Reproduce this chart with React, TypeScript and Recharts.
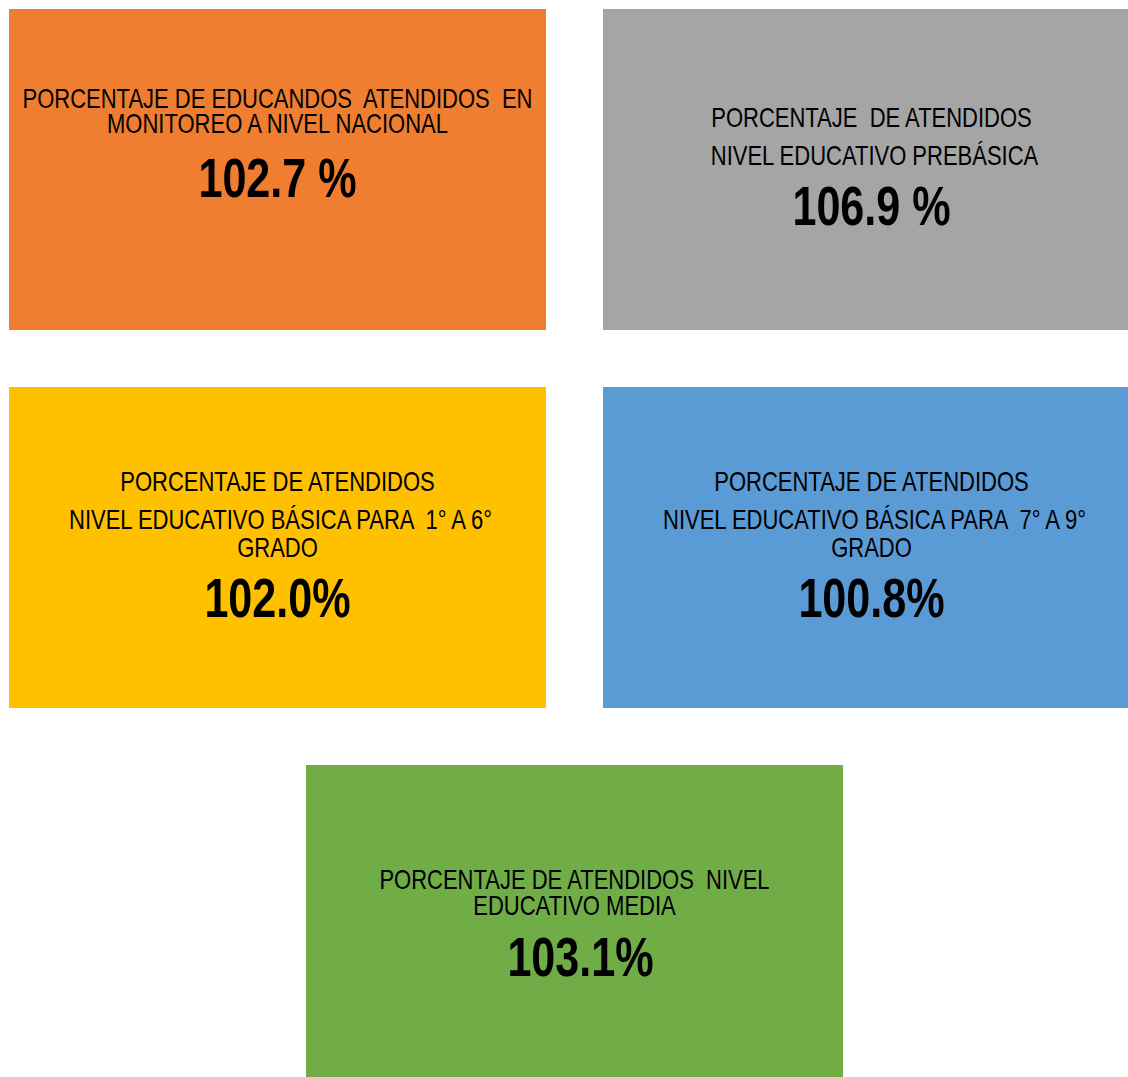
import React from "react";
import { ScatterChart, Scatter, XAxis, YAxis } from "recharts";

// ---- data ----
const cardTitles: string[][] = [
  ["PORCENTAJE DE EDUCANDOS  ATENDIDOS  EN", "MONITOREO A NIVEL NACIONAL"],
  ["PORCENTAJE  DE ATENDIDOS", "NIVEL EDUCATIVO PREBÁSICA"],
  ["PORCENTAJE DE ATENDIDOS", "NIVEL EDUCATIVO BÁSICA PARA  1° A 6°", "GRADO"],
  ["PORCENTAJE DE ATENDIDOS", "NIVEL EDUCATIVO BÁSICA PARA  7° A 9°", "GRADO"],
  ["PORCENTAJE DE ATENDIDOS  NIVEL", "EDUCATIVO MEDIA"],
];
const cardValues: number[] = [102.7, 106.9, 102.0, 100.8, 103.1];
const valueSuffixes: string[] = [" %", " %", "%", "%", "%"];

// ---- layout (grid cell of each card) ----
const cardCols: number[] = [0, 1, 0, 1, 0.5];
const cardRows: number[] = [0, 0, 1, 1, 2];

// ---- styles ----
const cardColors: string[] = ["#EF7E31", "#A5A5A5", "#FFC000", "#5B9BD5", "#70AD47"];
const titleBaselines: number[][] = [
  [99, 124],
  [118, 156],
  [104, 142, 170],
  [104, 142, 170],
  [124, 150],
];
const titleDx: number[][] = [
  [0, 0],
  [0, 3],
  [0, 3, 0],
  [0, 3, 0],
  [0, 0],
];
const valueBaselines: number[] = [188, 216, 230, 230, 211];
const valueDx: number[] = [0, 0, 0, 0, 6];
const BOX_W = 537;
const BOX_H = 321;
const FONT = "'Liberation Sans', Arial, sans-serif";
const TITLE_SIZE = 27.5;
const TITLE_SX = 0.8;
const VALUE_SIZE = 56;
const VALUE_SX = 0.77;

const cards = cardValues.map((v, i) => ({
  col: cardCols[i],
  row: cardRows[i],
  value: v,
  idx: i,
}));

const CardShape = (props: any) => {
  const { cx, cy, payload } = props;
  const i = payload.idx;
  const left = cx - BOX_W / 2;
  const top = cy - BOX_H / 2;
  return (
    <g>
      <rect x={left} y={top} width={BOX_W} height={BOX_H} fill={cardColors[i]} />
      {cardTitles[i].map((line, k) => (
        <text
          key={k}
          x={0}
          y={0}
          transform={`translate(${cx + titleDx[i][k]},${top + titleBaselines[i][k]}) scale(${TITLE_SX},1)`}
          textAnchor="middle"
          fontFamily={FONT}
          fontSize={TITLE_SIZE}
          fill="#000"
          style={{ whiteSpace: "pre" }}
        >
          {line}
        </text>
      ))}
      <text
        x={0}
        y={0}
        transform={`translate(${cx + valueDx[i]},${top + valueBaselines[i]}) scale(${VALUE_SX},1)`}
        textAnchor="middle"
        fontFamily={FONT}
        fontSize={VALUE_SIZE}
        fontWeight="bold"
        fill="#000"
        style={{ whiteSpace: "pre" }}
      >
        {payload.value.toFixed(1) + valueSuffixes[i]}
      </text>
    </g>
  );
};

export default function App() {
  return (
    <div style={{ width: 1128, height: 1077, overflow: "hidden" }}>
      <style>{`html,body{margin:0;padding:0;overflow:hidden;}`}</style>
      <ScatterChart
        width={1128}
        height={1077}
        margin={{ top: 169.5, bottom: 151.5, left: 277.5, right: 256.5 }}
      >
        <XAxis dataKey="col" type="number" domain={[0, 1]} hide />
        <YAxis dataKey="row" type="number" domain={[0, 2]} reversed hide />
        <Scatter data={cards} shape={CardShape} isAnimationActive={false} />
      </ScatterChart>
    </div>
  );
}
